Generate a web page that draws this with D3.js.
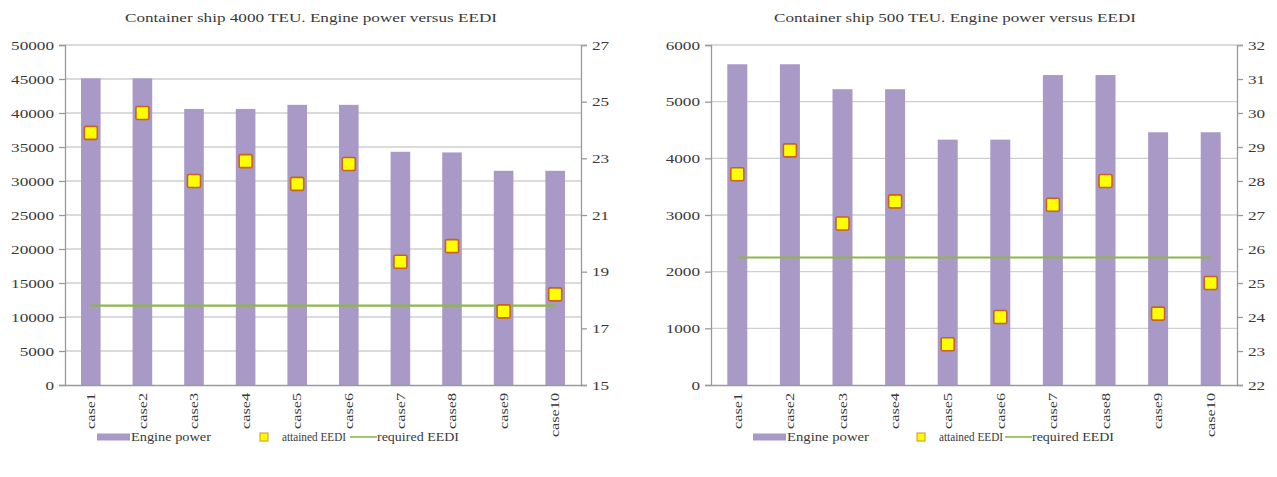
<!DOCTYPE html>
<html>
<head>
<meta charset="utf-8">
<script src="https://cdn.jsdelivr.net/npm/d3@7"></script>
<style>
  body { margin: 0; background: #fff; }
  svg { display: block; }
  text { font-family: "Liberation Serif", "Times New Roman", serif; fill: #3a3a3a; }
</style>
</head>
<body>
<script>
// values
var cases = ["case1", "case2", "case3", "case4", "case5", "case6", "case7", "case8", "case9", "case10"];

var power4000 = [45100, 45100, 40600, 40600, 41200, 41200, 34300, 34200, 31500, 31500];
var attained4000 = [23.9, 24.6, 22.2, 22.9, 22.1, 22.8, 19.35, 19.9, 17.6, 18.2];
var required4000 = 17.8;
var powerTicks4000 = d3.range(0, 50001, 5000);
var eediTicks4000 = [15, 17, 19, 21, 23, 25, 27];

var power500 = [5660, 5660, 5220, 5220, 4330, 4330, 5470, 5470, 4460, 4460];
var attained500 = [28.2, 28.9, 26.75, 27.4, 23.2, 24.0, 27.3, 28.0, 24.1, 25.0];
var required500 = 25.75;
var powerTicks500 = d3.range(0, 6001, 1000);
var eediTicks500 = d3.range(22, 33, 1);

var barColor = "#a999c7";
var gridColor = "#cfcfcf";
var axisColor = "#9a9a9a";
var lineColor = "#8db848";

var root = d3.select("body")
            .append("svg")
            .attr("width", 1277)
            .attr("height", 477);

// the source picture has its text stretched along the reading direction
function stretch(sel, k) {
    sel.each(function() {
        var len = this.getComputedTextLength();
        d3.select(this).attr("textLength", len * k).attr("lengthAdjust", "spacingAndGlyphs");
    });
}

function chart(cfg) {
    var svg = root.append("g")
                .attr("transform", "translate(" + cfg.left + ",0)");

    var x = d3.scaleBand()
            .domain(cases)
            .range([cfg.x0, cfg.x1])
            .paddingInner(0.62)
            .paddingOuter(0.31);

    var y = d3.scaleLinear()
            .domain([cfg.powerTicks[0], cfg.powerTicks[cfg.powerTicks.length - 1]])
            .range([385, 45]);

    var y2 = d3.scaleLinear()
            .domain([cfg.eediTicks[0], cfg.eediTicks[cfg.eediTicks.length - 1]])
            .range([385, 45]);

    // grid
    svg.append("g")
        .selectAll("line")
        .data(cfg.powerTicks.slice(1))
        .join("line")
        .attr("x1", cfg.x0)
        .attr("x2", cfg.x1)
        .attr("y1", d => y(d))
        .attr("y2", d => y(d))
        .attr("stroke", gridColor)
        .attr("stroke-width", 1.3);

    // bars
    svg.append("g")
        .selectAll("rect")
        .data(cfg.power)
        .join("rect")
        .attr("x", (d, i) => x(cases[i]))
        .attr("y", d => y(d))
        .attr("width", x.bandwidth())
        .attr("height", d => y(0) - y(d))
        .attr("fill", barColor);

    // axes
    var left = svg.append("g")
        .attr("transform", "translate(" + cfg.x0 + ",0)")
        .call(d3.axisLeft(y).tickValues(cfg.powerTicks).tickSize(6).tickPadding(5).tickFormat(d3.format("d")));
    var right = svg.append("g")
        .attr("transform", "translate(" + cfg.x1 + ",0)")
        .call(d3.axisRight(y2).tickValues(cfg.eediTicks).tickSize(6).tickPadding(5).tickFormat(d3.format("d")));
    var bottom = svg.append("g")
        .attr("transform", "translate(0,385)")
        .call(d3.axisBottom(x).tickSize(0).tickPadding(8));

    svg.selectAll(".domain, .tick line").attr("stroke", axisColor).attr("stroke-width", 1.3);
    left.selectAll("text").style("font-size", "13px").attr("fill", "#444");
    right.selectAll("text").style("font-size", "13px").attr("fill", "#444");
    stretch(left.selectAll("text"), 1.32);
    stretch(right.selectAll("text"), 1.32);

    bottom.selectAll("text")
        .style("font-size", "12px")
        .attr("fill", "#444")
        .attr("transform", "rotate(-90)")
        .attr("x", -8)
        .attr("y", 0)
        .attr("dy", "0.35em")
        .style("text-anchor", "end");
    stretch(bottom.selectAll("text"), 1.35);

    // required EEDI line
    svg.append("line")
        .attr("x1", x(cases[0]) + x.bandwidth() / 2)
        .attr("x2", x(cases[cases.length - 1]) + x.bandwidth() / 2)
        .attr("y1", y2(cfg.required))
        .attr("y2", y2(cfg.required))
        .attr("stroke", lineColor)
        .attr("stroke-width", 2.2);

    // attained EEDI markers
    svg.append("g")
        .selectAll("rect")
        .data(cfg.attained)
        .join("rect")
        .attr("x", (d, i) => x(cases[i]) + x.bandwidth() / 2 - 6.5)
        .attr("y", d => y2(d) - 6.5)
        .attr("width", 13)
        .attr("height", 13)
        .attr("rx", 1.5)
        .attr("fill", "#ffff00")
        .attr("stroke", "#c8621e")
        .attr("stroke-width", 1.6);

    // title
    svg.append("text")
        .attr("x", cfg.titleX)
        .attr("y", 22)
        .attr("text-anchor", "middle")
        .style("font-size", "13.5px")
        .attr("fill", "#333")
        .attr("textLength", cfg.titleLen)
        .attr("lengthAdjust", "spacingAndGlyphs")
        .text(cfg.title);

    // legend
    var lg = cfg.legend;
    var ly = 437;
    svg.append("rect")
        .attr("x", lg[0]).attr("y", ly - 3.5)
        .attr("width", 33).attr("height", 7)
        .attr("fill", barColor);
    svg.append("text")
        .attr("x", lg[0] + 34).attr("y", ly + 4)
        .style("font-size", "12.5px")
        .attr("textLength", lg[1]).attr("lengthAdjust", "spacingAndGlyphs")
        .text("Engine power");
    svg.append("rect")
        .attr("x", lg[2]).attr("y", ly - 4)
        .attr("width", 8).attr("height", 8)
        .attr("fill", "#ffff00")
        .attr("stroke", "#d98c2a")
        .attr("stroke-width", 1);
    svg.append("text")
        .attr("x", lg[2] + 22).attr("y", ly + 4)
        .style("font-size", "12.5px")
        .attr("textLength", lg[3]).attr("lengthAdjust", "spacingAndGlyphs")
        .text("attained EEDI");
    svg.append("line")
        .attr("x1", lg[4]).attr("x2", lg[4] + 27)
        .attr("y1", ly).attr("y2", ly)
        .attr("stroke", lineColor)
        .attr("stroke-width", 1.6);
    svg.append("text")
        .attr("x", lg[4] + 27).attr("y", ly + 4)
        .style("font-size", "12.5px")
        .attr("textLength", lg[5]).attr("lengthAdjust", "spacingAndGlyphs")
        .text("required EEDI");
}

chart({
    left: 0, x0: 65, x1: 581,
    power: power4000, attained: attained4000, required: required4000,
    powerTicks: powerTicks4000, eediTicks: eediTicks4000,
    title: "Container ship 4000 TEU. Engine power versus EEDI", titleX: 311, titleLen: 372,
    legend: [97, 80, 260, 64, 350, 82]
});

chart({
    left: 600, x0: 111, x1: 637,
    power: power500, attained: attained500, required: required500,
    powerTicks: powerTicks500, eediTicks: eediTicks500,
    title: "Container ship 500 TEU. Engine power versus EEDI", titleX: 355, titleLen: 362,
    legend: [153, 82, 317, 64, 405, 82]
});
</script>
</body>
</html>
